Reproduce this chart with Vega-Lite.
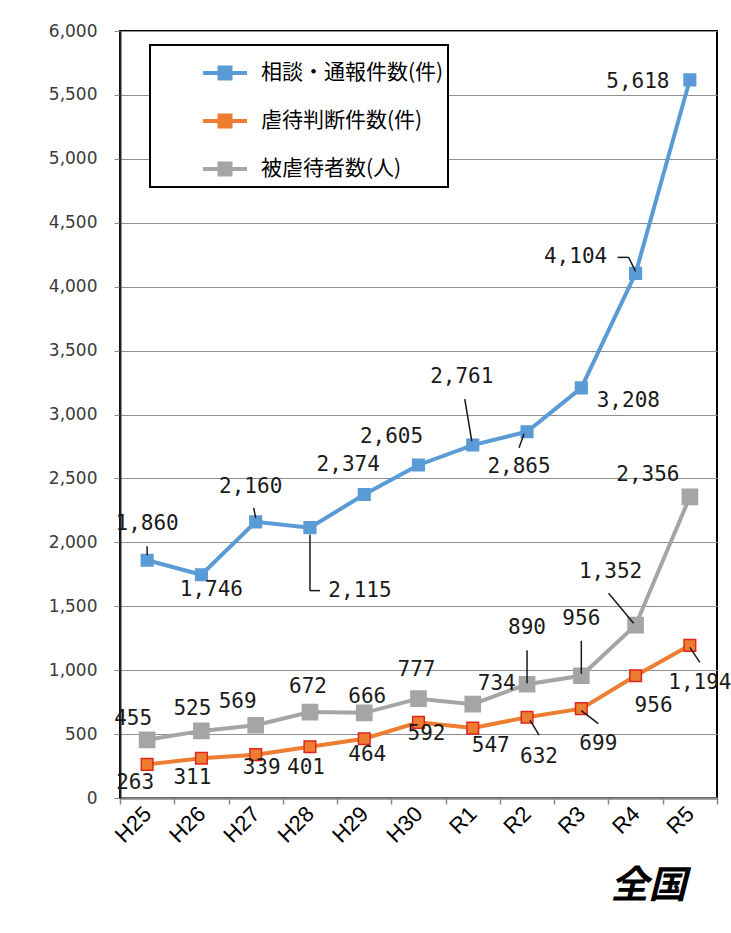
{
  "$schema": "https://vega.github.io/schema/vega-lite/v6.json",
  "autosize": {"type": "none"},
  "padding": {"left": 120, "top": 31, "right": 14, "bottom": 135},
  "width": 597,
  "height": 767,
  "background": "#ffffff",
  "title": {"text": "全国", "orient": "bottom", "anchor": "end", "font": "Noto Sans CJK JP", "fontSize": 38, "fontWeight": "bold", "fontStyle": "italic", "color": "#000000", "dx": -45, "offset": 22},
  "config": {
    "view": {"stroke": "#000000", "strokeWidth": 2},
    "text": {"font": "DejaVu Sans Mono", "fontSize": 21, "align": "center", "baseline": "middle"}
  },
  "data": {"values": [
    {"yr": "H25", "s": "相談・通報件数(件)", "v": 1860},
    {"yr": "H26", "s": "相談・通報件数(件)", "v": 1746},
    {"yr": "H27", "s": "相談・通報件数(件)", "v": 2160},
    {"yr": "H28", "s": "相談・通報件数(件)", "v": 2115},
    {"yr": "H29", "s": "相談・通報件数(件)", "v": 2374},
    {"yr": "H30", "s": "相談・通報件数(件)", "v": 2605},
    {"yr": "R1", "s": "相談・通報件数(件)", "v": 2761},
    {"yr": "R2", "s": "相談・通報件数(件)", "v": 2865},
    {"yr": "R3", "s": "相談・通報件数(件)", "v": 3208},
    {"yr": "R4", "s": "相談・通報件数(件)", "v": 4104},
    {"yr": "R5", "s": "相談・通報件数(件)", "v": 5618},
    {"yr": "H25", "s": "虐待判断件数(件)", "v": 263},
    {"yr": "H26", "s": "虐待判断件数(件)", "v": 311},
    {"yr": "H27", "s": "虐待判断件数(件)", "v": 339},
    {"yr": "H28", "s": "虐待判断件数(件)", "v": 401},
    {"yr": "H29", "s": "虐待判断件数(件)", "v": 464},
    {"yr": "H30", "s": "虐待判断件数(件)", "v": 592},
    {"yr": "R1", "s": "虐待判断件数(件)", "v": 547},
    {"yr": "R2", "s": "虐待判断件数(件)", "v": 632},
    {"yr": "R3", "s": "虐待判断件数(件)", "v": 699},
    {"yr": "R4", "s": "虐待判断件数(件)", "v": 956},
    {"yr": "R5", "s": "虐待判断件数(件)", "v": 1194},
    {"yr": "H25", "s": "被虐待者数(人)", "v": 455},
    {"yr": "H26", "s": "被虐待者数(人)", "v": 525},
    {"yr": "H27", "s": "被虐待者数(人)", "v": 569},
    {"yr": "H28", "s": "被虐待者数(人)", "v": 672},
    {"yr": "H29", "s": "被虐待者数(人)", "v": 666},
    {"yr": "H30", "s": "被虐待者数(人)", "v": 777},
    {"yr": "R1", "s": "被虐待者数(人)", "v": 734},
    {"yr": "R2", "s": "被虐待者数(人)", "v": 890},
    {"yr": "R3", "s": "被虐待者数(人)", "v": 956},
    {"yr": "R4", "s": "被虐待者数(人)", "v": 1352},
    {"yr": "R5", "s": "被虐待者数(人)", "v": 2356}
  ]},
  "encoding": {
    "x": {"field": "yr", "type": "ordinal", "sort": null,
      "scale": {"type": "band", "paddingInner": 0, "paddingOuter": 0},
      "axis": {"title": null, "labelAngle": -45, "labelAlign": "right", "labelBaseline": "middle", "labelFont": "Liberation Sans", "labelFontSize": 22, "labelColor": "#000000", "labelPadding": 6, "tickBand": "extent", "tickSize": 6, "tickColor": "#8a8a8a", "tickWidth": 1.5, "domainColor": "#8a8a8a", "domainWidth": 2.5, "grid": false}},
    "y": {"field": "v", "type": "quantitative",
      "scale": {"domain": [0, 6000], "nice": false},
      "axis": {"title": null, "values": [0, 500, 1000, 1500, 2000, 2500, 3000, 3500, 4000, 4500, 5000, 5500, 6000], "labelExpr": "format(datum.value, ',')", "labelFont": "DejaVu Sans", "labelFontSize": 17, "labelColor": "#3a3a3a", "labelPadding": 17, "tickSize": 6, "tickColor": "#8a8a8a", "domainColor": "#222222", "domainWidth": 2, "grid": true, "gridColor": "#8f8f8f", "gridWidth": 1.2}},
    "color": {"field": "s", "type": "nominal",
      "scale": {"domain": ["相談・通報件数(件)", "虐待判断件数(件)", "被虐待者数(人)"], "range": ["#5B9BD5", "#ED7D31", "#A5A5A5"]},
      "legend": {"title": null, "orient": "none", "legendX": 30, "legendY": 14, "padding": 4, "strokeColor": "#000000", "fillColor": "#ffffff",
        "symbolType": "M-1,0H1M-0.25,-0.25H0.25V0.25H-0.25Z", "symbolSize": 1936, "symbolStrokeWidth": 3, "symbolOffset": 47,
        "labelOffset": 12, "labelFont": "Noto Sans CJK JP", "labelFontSize": 21, "labelColor": "#000000", "labelLimit": 0, "rowPadding": 10,
        "encode": {"legend": {"update": {"stroke": {"value": "#000000"}, "strokeWidth": {"value": 2}}}, "symbols": {"update": {"size": {"value": 1936}, "fill": {"scale": "color", "field": "value"}, "stroke": {"scale": "color", "field": "value"}}}}}}
  },
  "layer": [
    {"mark": {"type": "line"},
     "encoding": {"strokeWidth": {"field": "s", "type": "nominal", "scale": {"domain": ["相談・通報件数(件)", "虐待判断件数(件)", "被虐待者数(人)"], "range": [4, 4, 5]}, "legend": null}}},
    {"transform": [{"filter": "datum.s!=='被虐待者数(人)'"}],
     "mark": {"type": "point", "shape": "square", "filled": true, "opacity": 1, "strokeWidth": 1.5, "size": 135},
     "encoding": {
       "stroke": {"field": "s", "type": "nominal", "scale": {"domain": ["相談・通報件数(件)", "虐待判断件数(件)", "被虐待者数(人)"], "range": ["#5B9BD5", "#E0261C", "#A5A5A5"]}, "legend": null}}},
    {"transform": [{"filter": "datum.s==='被虐待者数(人)'"}],
     "mark": {"type": "point", "shape": "square", "filled": true, "opacity": 1, "strokeWidth": 1.5, "size": 230},
     "encoding": {
       "stroke": {"field": "s", "type": "nominal", "scale": {"domain": ["相談・通報件数(件)", "虐待判断件数(件)", "被虐待者数(人)"], "range": ["#5B9BD5", "#E0261C", "#A5A5A5"]}, "legend": null}}},
    {"transform": [{"filter": "datum.s==='相談・通報件数(件)'&&datum.yr==='H25'"}], "mark": {"type": "rule", "xOffset": 0, "yOffset": -14, "x2Offset": 0, "y2Offset": -5, "strokeWidth": 1.5}, "encoding": {"x": {"field": "yr", "type": "ordinal", "bandPosition": 0.5, "sort": null}, "x2": {"field": "yr", "bandPosition": 0.5}, "y2": {"field": "v"}, "color": {"value": "#1a1a1a"}}},
    {"transform": [{"filter": "datum.s==='相談・通報件数(件)'&&datum.yr==='H27'"}], "mark": {"type": "rule", "xOffset": -2, "yOffset": -14, "x2Offset": 0, "y2Offset": -4, "strokeWidth": 1.5}, "encoding": {"x": {"field": "yr", "type": "ordinal", "bandPosition": 0.5, "sort": null}, "x2": {"field": "yr", "bandPosition": 0.5}, "y2": {"field": "v"}, "color": {"value": "#1a1a1a"}}},
    {"transform": [{"filter": "datum.s==='相談・通報件数(件)'&&datum.yr==='H28'"}], "mark": {"type": "rule", "xOffset": 0, "yOffset": 7, "x2Offset": 0, "y2Offset": 63, "strokeWidth": 1.5}, "encoding": {"x": {"field": "yr", "type": "ordinal", "bandPosition": 0.5, "sort": null}, "x2": {"field": "yr", "bandPosition": 0.5}, "y2": {"field": "v"}, "color": {"value": "#1a1a1a"}}},
    {"transform": [{"filter": "datum.s==='相談・通報件数(件)'&&datum.yr==='H28'"}], "mark": {"type": "rule", "xOffset": 0, "yOffset": 63, "x2Offset": 10, "y2Offset": 63, "strokeWidth": 1.5}, "encoding": {"x": {"field": "yr", "type": "ordinal", "bandPosition": 0.5, "sort": null}, "x2": {"field": "yr", "bandPosition": 0.5}, "y2": {"field": "v"}, "color": {"value": "#1a1a1a"}}},
    {"transform": [{"filter": "datum.s==='相談・通報件数(件)'&&datum.yr==='R1'"}], "mark": {"type": "rule", "xOffset": -8, "yOffset": -46, "x2Offset": -1, "y2Offset": -4, "strokeWidth": 1.5}, "encoding": {"x": {"field": "yr", "type": "ordinal", "bandPosition": 0.5, "sort": null}, "x2": {"field": "yr", "bandPosition": 0.5}, "y2": {"field": "v"}, "color": {"value": "#1a1a1a"}}},
    {"transform": [{"filter": "datum.s==='相談・通報件数(件)'&&datum.yr==='R2'"}], "mark": {"type": "rule", "xOffset": -3, "yOffset": 2, "x2Offset": -8, "y2Offset": 16, "strokeWidth": 1.5}, "encoding": {"x": {"field": "yr", "type": "ordinal", "bandPosition": 0.5, "sort": null}, "x2": {"field": "yr", "bandPosition": 0.5}, "y2": {"field": "v"}, "color": {"value": "#1a1a1a"}}},
    {"transform": [{"filter": "datum.s==='相談・通報件数(件)'&&datum.yr==='R4'"}], "mark": {"type": "rule", "xOffset": -18, "yOffset": -16, "x2Offset": -7, "y2Offset": -16, "strokeWidth": 1.5}, "encoding": {"x": {"field": "yr", "type": "ordinal", "bandPosition": 0.5, "sort": null}, "x2": {"field": "yr", "bandPosition": 0.5}, "y2": {"field": "v"}, "color": {"value": "#1a1a1a"}}},
    {"transform": [{"filter": "datum.s==='相談・通報件数(件)'&&datum.yr==='R4'"}], "mark": {"type": "rule", "xOffset": -7, "yOffset": -16, "x2Offset": 0, "y2Offset": -2, "strokeWidth": 1.5}, "encoding": {"x": {"field": "yr", "type": "ordinal", "bandPosition": 0.5, "sort": null}, "x2": {"field": "yr", "bandPosition": 0.5}, "y2": {"field": "v"}, "color": {"value": "#1a1a1a"}}},
    {"transform": [{"filter": "datum.s==='被虐待者数(人)'&&datum.yr==='R2'"}], "mark": {"type": "rule", "xOffset": 0, "yOffset": -34, "x2Offset": 0, "y2Offset": -1, "strokeWidth": 1.5}, "encoding": {"x": {"field": "yr", "type": "ordinal", "bandPosition": 0.5, "sort": null}, "x2": {"field": "yr", "bandPosition": 0.5}, "y2": {"field": "v"}, "color": {"value": "#1a1a1a"}}},
    {"transform": [{"filter": "datum.s==='被虐待者数(人)'&&datum.yr==='R3'"}], "mark": {"type": "rule", "xOffset": 0, "yOffset": -35, "x2Offset": 0, "y2Offset": -2, "strokeWidth": 1.5}, "encoding": {"x": {"field": "yr", "type": "ordinal", "bandPosition": 0.5, "sort": null}, "x2": {"field": "yr", "bandPosition": 0.5}, "y2": {"field": "v"}, "color": {"value": "#1a1a1a"}}},
    {"transform": [{"filter": "datum.s==='被虐待者数(人)'&&datum.yr==='R4'"}], "mark": {"type": "rule", "xOffset": -27, "yOffset": -32, "x2Offset": -2, "y2Offset": -2, "strokeWidth": 1.5}, "encoding": {"x": {"field": "yr", "type": "ordinal", "bandPosition": 0.5, "sort": null}, "x2": {"field": "yr", "bandPosition": 0.5}, "y2": {"field": "v"}, "color": {"value": "#1a1a1a"}}},
    {"transform": [{"filter": "datum.s==='虐待判断件数(件)'&&datum.yr==='R2'"}], "mark": {"type": "rule", "xOffset": 3, "yOffset": 3, "x2Offset": 12, "y2Offset": 18, "strokeWidth": 1.5}, "encoding": {"x": {"field": "yr", "type": "ordinal", "bandPosition": 0.5, "sort": null}, "x2": {"field": "yr", "bandPosition": 0.5}, "y2": {"field": "v"}, "color": {"value": "#1a1a1a"}}},
    {"transform": [{"filter": "datum.s==='虐待判断件数(件)'&&datum.yr==='R3'"}], "mark": {"type": "rule", "xOffset": 0, "yOffset": 2, "x2Offset": 17, "y2Offset": 15, "strokeWidth": 1.5}, "encoding": {"x": {"field": "yr", "type": "ordinal", "bandPosition": 0.5, "sort": null}, "x2": {"field": "yr", "bandPosition": 0.5}, "y2": {"field": "v"}, "color": {"value": "#1a1a1a"}}},
    {"transform": [{"filter": "datum.s==='虐待判断件数(件)'&&datum.yr==='R5'"}], "mark": {"type": "rule", "xOffset": 0, "yOffset": 2, "x2Offset": 10, "y2Offset": 17, "strokeWidth": 1.5}, "encoding": {"x": {"field": "yr", "type": "ordinal", "bandPosition": 0.5, "sort": null}, "x2": {"field": "yr", "bandPosition": 0.5}, "y2": {"field": "v"}, "color": {"value": "#1a1a1a"}}},

    {"transform": [{"filter": "datum.s==='相談・通報件数(件)'&&datum.yr==='H25'"}], "mark": {"type": "text", "dx": 0, "dy": -36}, "encoding": {"text": {"field": "v", "format": ","}, "color": {"value": "#1a1a1a"}}},
    {"transform": [{"filter": "datum.s==='相談・通報件数(件)'&&datum.yr==='H26'"}], "mark": {"type": "text", "dx": 10, "dy": 15}, "encoding": {"text": {"field": "v", "format": ","}, "color": {"value": "#1a1a1a"}}},
    {"transform": [{"filter": "datum.s==='相談・通報件数(件)'&&datum.yr==='H27'"}], "mark": {"type": "text", "dx": -5, "dy": -35}, "encoding": {"text": {"field": "v", "format": ","}, "color": {"value": "#1a1a1a"}}},
    {"transform": [{"filter": "datum.s==='相談・通報件数(件)'&&datum.yr==='H28'"}], "mark": {"type": "text", "dx": 50, "dy": 63}, "encoding": {"text": {"field": "v", "format": ","}, "color": {"value": "#1a1a1a"}}},
    {"transform": [{"filter": "datum.s==='相談・通報件数(件)'&&datum.yr==='H29'"}], "mark": {"type": "text", "dx": -16, "dy": -30}, "encoding": {"text": {"field": "v", "format": ","}, "color": {"value": "#1a1a1a"}}},
    {"transform": [{"filter": "datum.s==='相談・通報件数(件)'&&datum.yr==='H30'"}], "mark": {"type": "text", "dx": -27, "dy": -28}, "encoding": {"text": {"field": "v", "format": ","}, "color": {"value": "#1a1a1a"}}},
    {"transform": [{"filter": "datum.s==='相談・通報件数(件)'&&datum.yr==='R1'"}], "mark": {"type": "text", "dx": -11, "dy": -68}, "encoding": {"text": {"field": "v", "format": ","}, "color": {"value": "#1a1a1a"}}},
    {"transform": [{"filter": "datum.s==='相談・通報件数(件)'&&datum.yr==='R2'"}], "mark": {"type": "text", "dx": -8, "dy": 35}, "encoding": {"text": {"field": "v", "format": ","}, "color": {"value": "#1a1a1a"}}},
    {"transform": [{"filter": "datum.s==='相談・通報件数(件)'&&datum.yr==='R3'"}], "mark": {"type": "text", "dx": 47, "dy": 13}, "encoding": {"text": {"field": "v", "format": ","}, "color": {"value": "#1a1a1a"}}},
    {"transform": [{"filter": "datum.s==='相談・通報件数(件)'&&datum.yr==='R4'"}], "mark": {"type": "text", "dx": -60, "dy": -16}, "encoding": {"text": {"field": "v", "format": ","}, "color": {"value": "#1a1a1a"}}},
    {"transform": [{"filter": "datum.s==='相談・通報件数(件)'&&datum.yr==='R5'"}], "mark": {"type": "text", "dx": -52, "dy": 2}, "encoding": {"text": {"field": "v", "format": ","}, "color": {"value": "#1a1a1a"}}},

    {"transform": [{"filter": "datum.s==='虐待判断件数(件)'&&datum.yr==='H25'"}], "mark": {"type": "text", "dx": -12, "dy": 19}, "encoding": {"text": {"field": "v", "format": ","}, "color": {"value": "#1a1a1a"}}},
    {"transform": [{"filter": "datum.s==='虐待判断件数(件)'&&datum.yr==='H26'"}], "mark": {"type": "text", "dx": -9, "dy": 20}, "encoding": {"text": {"field": "v", "format": ","}, "color": {"value": "#1a1a1a"}}},
    {"transform": [{"filter": "datum.s==='虐待判断件数(件)'&&datum.yr==='H27'"}], "mark": {"type": "text", "dx": 6, "dy": 13}, "encoding": {"text": {"field": "v", "format": ","}, "color": {"value": "#1a1a1a"}}},
    {"transform": [{"filter": "datum.s==='虐待判断件数(件)'&&datum.yr==='H28'"}], "mark": {"type": "text", "dx": -4, "dy": 21}, "encoding": {"text": {"field": "v", "format": ","}, "color": {"value": "#1a1a1a"}}},
    {"transform": [{"filter": "datum.s==='虐待判断件数(件)'&&datum.yr==='H29'"}], "mark": {"type": "text", "dx": 3, "dy": 16}, "encoding": {"text": {"field": "v", "format": ","}, "color": {"value": "#1a1a1a"}}},
    {"transform": [{"filter": "datum.s==='虐待判断件数(件)'&&datum.yr==='H30'"}], "mark": {"type": "text", "dx": 8, "dy": 12}, "encoding": {"text": {"field": "v", "format": ","}, "color": {"value": "#1a1a1a"}}},
    {"transform": [{"filter": "datum.s==='虐待判断件数(件)'&&datum.yr==='R1'"}], "mark": {"type": "text", "dx": 18, "dy": 18}, "encoding": {"text": {"field": "v", "format": ","}, "color": {"value": "#1a1a1a"}}},
    {"transform": [{"filter": "datum.s==='虐待判断件数(件)'&&datum.yr==='R2'"}], "mark": {"type": "text", "dx": 12, "dy": 40}, "encoding": {"text": {"field": "v", "format": ","}, "color": {"value": "#1a1a1a"}}},
    {"transform": [{"filter": "datum.s==='虐待判断件数(件)'&&datum.yr==='R3'"}], "mark": {"type": "text", "dx": 17, "dy": 35}, "encoding": {"text": {"field": "v", "format": ","}, "color": {"value": "#1a1a1a"}}},
    {"transform": [{"filter": "datum.s==='虐待判断件数(件)'&&datum.yr==='R4'"}], "mark": {"type": "text", "dx": 18, "dy": 30}, "encoding": {"text": {"field": "v", "format": ","}, "color": {"value": "#1a1a1a"}}},
    {"transform": [{"filter": "datum.s==='虐待判断件数(件)'&&datum.yr==='R5'"}], "mark": {"type": "text", "dx": 10, "dy": 38}, "encoding": {"text": {"field": "v", "format": ","}, "color": {"value": "#1a1a1a"}}},

    {"transform": [{"filter": "datum.s==='被虐待者数(人)'&&datum.yr==='H25'"}], "mark": {"type": "text", "dx": -14, "dy": -21}, "encoding": {"text": {"field": "v", "format": ","}, "color": {"value": "#1a1a1a"}}},
    {"transform": [{"filter": "datum.s==='被虐待者数(人)'&&datum.yr==='H26'"}], "mark": {"type": "text", "dx": -9, "dy": -22}, "encoding": {"text": {"field": "v", "format": ","}, "color": {"value": "#1a1a1a"}}},
    {"transform": [{"filter": "datum.s==='被虐待者数(人)'&&datum.yr==='H27'"}], "mark": {"type": "text", "dx": -18, "dy": -23}, "encoding": {"text": {"field": "v", "format": ","}, "color": {"value": "#1a1a1a"}}},
    {"transform": [{"filter": "datum.s==='被虐待者数(人)'&&datum.yr==='H28'"}], "mark": {"type": "text", "dx": -2, "dy": -25}, "encoding": {"text": {"field": "v", "format": ","}, "color": {"value": "#1a1a1a"}}},
    {"transform": [{"filter": "datum.s==='被虐待者数(人)'&&datum.yr==='H29'"}], "mark": {"type": "text", "dx": 3, "dy": -16}, "encoding": {"text": {"field": "v", "format": ","}, "color": {"value": "#1a1a1a"}}},
    {"transform": [{"filter": "datum.s==='被虐待者数(人)'&&datum.yr==='H30'"}], "mark": {"type": "text", "dx": -2, "dy": -29}, "encoding": {"text": {"field": "v", "format": ","}, "color": {"value": "#1a1a1a"}}},
    {"transform": [{"filter": "datum.s==='被虐待者数(人)'&&datum.yr==='R1'"}], "mark": {"type": "text", "dx": 24, "dy": -20}, "encoding": {"text": {"field": "v", "format": ","}, "color": {"value": "#1a1a1a"}}},
    {"transform": [{"filter": "datum.s==='被虐待者数(人)'&&datum.yr==='R2'"}], "mark": {"type": "text", "dx": 0, "dy": -56}, "encoding": {"text": {"field": "v", "format": ","}, "color": {"value": "#1a1a1a"}}},
    {"transform": [{"filter": "datum.s==='被虐待者数(人)'&&datum.yr==='R3'"}], "mark": {"type": "text", "dx": 0, "dy": -57}, "encoding": {"text": {"field": "v", "format": ","}, "color": {"value": "#1a1a1a"}}},
    {"transform": [{"filter": "datum.s==='被虐待者数(人)'&&datum.yr==='R4'"}], "mark": {"type": "text", "dx": -25, "dy": -53}, "encoding": {"text": {"field": "v", "format": ","}, "color": {"value": "#1a1a1a"}}},
    {"transform": [{"filter": "datum.s==='被虐待者数(人)'&&datum.yr==='R5'"}], "mark": {"type": "text", "dx": -42, "dy": -22}, "encoding": {"text": {"field": "v", "format": ","}, "color": {"value": "#1a1a1a"}}}
  ]
}
